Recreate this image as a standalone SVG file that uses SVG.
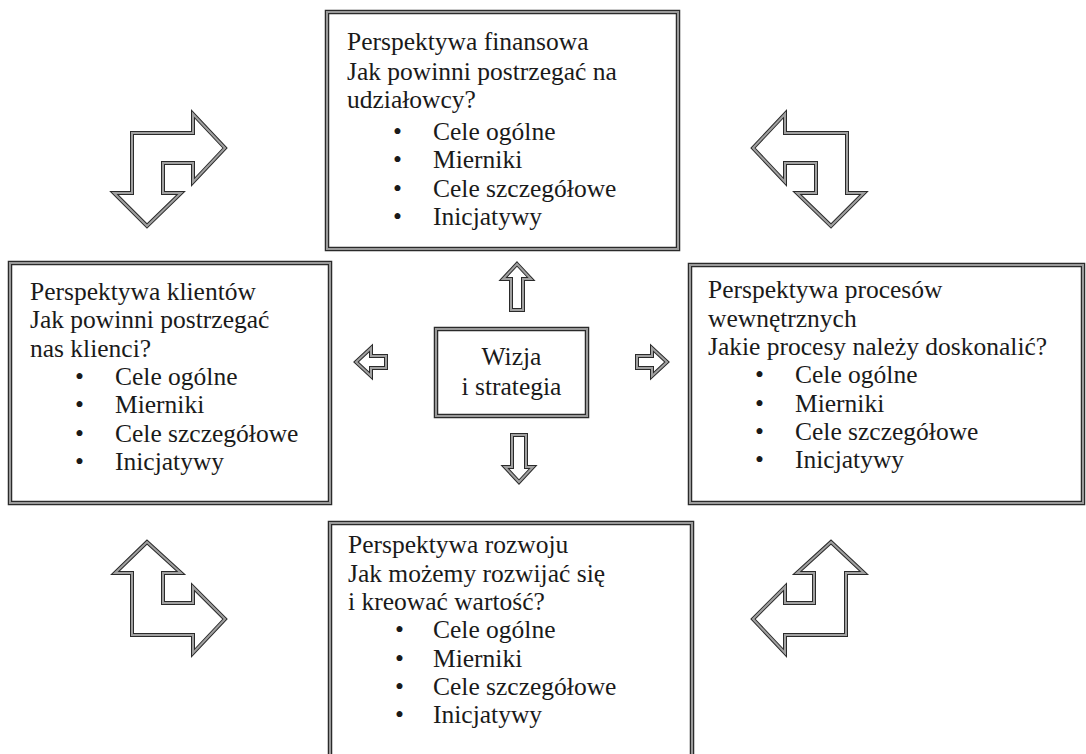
<svg xmlns="http://www.w3.org/2000/svg" width="1086" height="754" viewBox="0 0 1086 754">
<style>
.bo{fill:#fff;stroke:#2a2a2a;stroke-width:4.5}
.bi{fill:none;stroke:#9a9a9a;stroke-width:2}
.ao{fill:#fff;stroke:#2a2a2a;stroke-width:4}
.ai{fill:none;stroke:#a0a0a0;stroke-width:2;stroke-linejoin:miter}
text{font-family:"Liberation Serif","Times New Roman",serif;font-size:25.5px;fill:#1a1a1a}
</style>
<rect width="1086" height="754" fill="#fff"/>
<defs>
<path id="a-tl" d="M132,133 L193,133 L193,114 L225,148 L193,182 L193,163 L163,163 L163,193 L181,193 L147,226 L114,193 L132,193 Z"/>
<path id="a-tr" d="M847,133 L785,133 L785,114 L753,148 L785,182 L785,163 L816,163 L816,193 L797,193 L831,226 L864,193 L847,193 Z"/>
<path id="a-bl" d="M147,542 L181,573 L163,573 L163,603 L193,603 L193,587 L225,619 L193,653 L193,635 L132,635 L132,573 L115,573 Z"/>
<path id="a-br" d="M831,542 L864,573 L846,573 L846,635 L785,635 L785,653 L753,619 L785,587 L785,603 L814,603 L814,573 L797,573 Z"/>
<path id="a-up" d="M517,264 L531,279 L523,279 L523,310 L511,310 L511,279 L503,279 Z"/>
<path id="a-dn" d="M512,435 L526,435 L526,467 L533,467 L519,482 L505,467 L512,467 Z"/>
<path id="a-rt" d="M637,356 L652,356 L652,348 L667,362 L652,376 L652,368 L637,368 Z"/>
<path id="a-lt" d="M386,356 L371,356 L371,348 L356,362 L371,376 L371,368 L386,368 Z"/>
</defs>

<g id="connectors">
<use href="#a-tl" class="ao"/><use href="#a-tl" class="ai"/>
<use href="#a-tr" class="ao"/><use href="#a-tr" class="ai"/>
<use href="#a-bl" class="ao"/><use href="#a-bl" class="ai"/>
<use href="#a-br" class="ao"/><use href="#a-br" class="ai"/>
<use href="#a-up" class="ao"/><use href="#a-up" class="ai"/>
<use href="#a-dn" class="ao"/><use href="#a-dn" class="ai"/>
<use href="#a-rt" class="ao"/><use href="#a-rt" class="ai"/>
<use href="#a-lt" class="ao"/><use href="#a-lt" class="ai"/>
</g>

<g id="finansowa">
<rect x="327" y="12" width="351" height="237" class="bo"/>
<rect x="327" y="12" width="351" height="237" class="bi"/>
<text x="347" y="50">Perspektywa finansowa</text>
<text x="347" y="80">Jak powinni postrzegać na</text>
<text x="347" y="108">udziałowcy?</text>
<text x="393" y="140">•</text><text x="433" y="140">Cele ogólne</text>
<text x="393" y="168">•</text><text x="433" y="168">Mierniki</text>
<text x="393" y="197">•</text><text x="433" y="197">Cele szczegółowe</text>
<text x="393" y="225">•</text><text x="433" y="225">Inicjatywy</text>
</g>

<g id="klienci">
<rect x="10" y="263" width="320" height="240" class="bo"/>
<rect x="10" y="263" width="320" height="240" class="bi"/>
<text x="30" y="300">Perspektywa klientów</text>
<text x="30" y="328">Jak powinni postrzegać</text>
<text x="30" y="357">nas klienci?</text>
<text x="75" y="385">•</text><text x="115" y="385">Cele ogólne</text>
<text x="75" y="413">•</text><text x="115" y="413">Mierniki</text>
<text x="75" y="442">•</text><text x="115" y="442">Cele szczegółowe</text>
<text x="75" y="470">•</text><text x="115" y="470">Inicjatywy</text>
</g>

<g id="procesy">
<rect x="690" y="265" width="393" height="238" class="bo"/>
<rect x="690" y="265" width="393" height="238" class="bi"/>
<text x="708" y="298">Perspektywa procesów</text>
<text x="708" y="327">wewnętrznych</text>
<text x="708" y="355">Jakie procesy należy doskonalić?</text>
<text x="755" y="383">•</text><text x="795" y="383">Cele ogólne</text>
<text x="755" y="412">•</text><text x="795" y="412">Mierniki</text>
<text x="755" y="440">•</text><text x="795" y="440">Cele szczegółowe</text>
<text x="755" y="468">•</text><text x="795" y="468">Inicjatywy</text>
</g>

<g id="rozwoj">
<rect x="330" y="523" width="362" height="250" class="bo"/>
<rect x="330" y="523" width="362" height="250" class="bi"/>
<text x="348" y="553">Perspektywa rozwoju</text>
<text x="348" y="582">Jak możemy rozwijać się</text>
<text x="348" y="610">i kreować wartość?</text>
<text x="395" y="638">•</text><text x="433" y="638">Cele ogólne</text>
<text x="395" y="667">•</text><text x="433" y="667">Mierniki</text>
<text x="395" y="695">•</text><text x="433" y="695">Cele szczegółowe</text>
<text x="395" y="723">•</text><text x="433" y="723">Inicjatywy</text>
</g>

<g id="wizja">
<rect x="436" y="329" width="151" height="87" class="bo"/>
<rect x="436" y="329" width="151" height="87" class="bi"/>
<text x="511.5" y="365" text-anchor="middle">Wizja</text>
<text x="511.5" y="395" text-anchor="middle">i strategia</text>
</g>
</svg>
